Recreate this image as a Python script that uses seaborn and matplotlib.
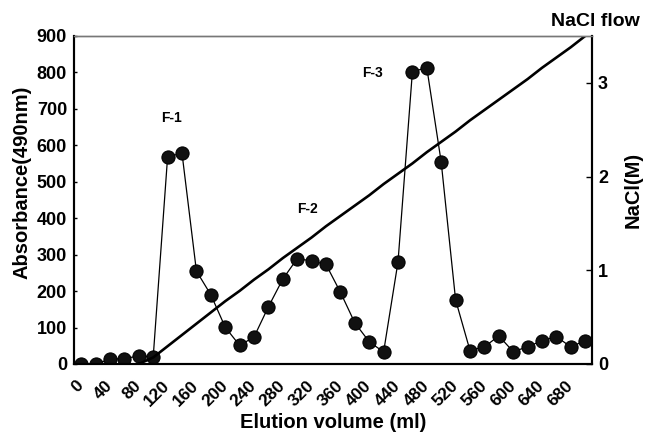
import pandas as pd
import matplotlib.pyplot as plt
import seaborn as sns

# elution volume (ml) and absorbance at 490 nm
volume = [0, 20, 40, 60, 80, 100, 120, 140, 160, 180, 200, 220, 240, 260, 280, 300, 320, 340,
          360, 380, 400, 420, 440, 460, 480, 500, 520, 540, 560, 580, 600, 620, 640, 660, 680, 700]
absorbance = [0, 0, 13, 15, 22, 20, 569, 578, 255, 190, 101, 51, 74, 157, 233, 289, 283, 273,
              197, 113, 61, 33, 280, 802, 813, 554, 176, 37, 47, 77, 34, 47, 64, 75, 47, 64]

# NaCl gradient (M)
nacl_volume = [80, 100, 120, 140, 160, 180, 200, 220, 240, 260, 280, 300, 320, 340, 360, 380,
               400, 420, 440, 460, 480, 500, 520, 540, 560, 580, 600, 620, 640, 660, 680, 700]
nacl = [0, 0.07, 0.19, 0.31, 0.43, 0.55, 0.67, 0.78, 0.90, 1.01, 1.13, 1.24, 1.35, 1.47, 1.58, 1.69,
        1.80, 1.92, 2.03, 2.14, 2.26, 2.37, 2.48, 2.60, 2.71, 2.82, 2.93, 3.04, 3.16, 3.27, 3.38, 3.50]

peak_labels = ['F-1', 'F-2', 'F-3']
peak_x = [126, 314, 404]
peak_y = [675, 425, 798]

xtick_labels = [str(v) for v in range(0, 700, 40)]

df = pd.DataFrame({'volume': volume, 'absorbance': absorbance})
df_nacl = pd.DataFrame({'volume': nacl_volume, 'nacl': nacl})

sns.set_theme(style='white')
plt.rcParams['font.family'] = ['Liberation Sans', 'DejaVu Sans']
plt.rcParams['font.weight'] = 'bold'
for key in ['text.color', 'axes.labelcolor', 'xtick.color', 'ytick.color']:
    plt.rcParams[key] = 'black'

fig = plt.figure(figsize=(6.46, 4.34), dpi=100)
ax = fig.add_axes([0.1146, 0.1613, 0.8024, 0.7558])

sns.lineplot(data=df, x='volume', y='absorbance', ax=ax, color='black', linewidth=0.9,
             marker='o', markersize=9.5, markeredgecolor='black', markerfacecolor='#111111')

ax2 = ax.twinx()
sns.lineplot(data=df_nacl, x='volume', y='nacl', ax=ax2, color='black', linewidth=1.9)

ax.set_xlim(-10, 710)
ax.set_ylim(0, 900)
ax2.set_ylim(0, 3.5)

ax.set_yticks(range(0, 1000, 100))
ax.set_yticklabels([str(v) for v in range(0, 1000, 100)], fontsize=13, fontweight='bold')
ax.tick_params(axis='y', direction='in', length=2, width=1, pad=5)
ax.set_xticks(range(0, 700, 40))
ax.set_xticklabels(xtick_labels, rotation=45, ha='right', va='center',
                   rotation_mode='anchor', fontsize=12.5, fontweight='bold')
ax.tick_params(axis='x', which='major', length=0, pad=14)
ax.set_xticks([v + 10 for v in volume[:-1]], minor=True)
ax.tick_params(axis='x', which='minor', direction='in', length=4.5, width=1, color='black')

ax2.set_yticks([0, 1, 2, 3])
ax2.set_yticklabels(['0', '1', '2', '3'], fontsize=13, fontweight='bold')
ax2.tick_params(axis='y', direction='in', length=4, width=1, pad=4)

ax.set_xlabel('Elution volume (ml)', fontsize=14.5, fontweight='bold')
ax.xaxis.set_label_coords(0.5, -0.15)
ax.set_ylabel('Absorbance(490nm)', fontsize=14.5, fontweight='bold')
ax.yaxis.set_label_coords(-0.082, 0.555)
ax2.set_ylabel('NaCl(M)', fontsize=14.5, fontweight='bold')
ax2.yaxis.set_label_coords(1.06, 0.53)

for a in (ax, ax2):
    for side in ['left', 'right', 'bottom']:
        a.spines[side].set_color('black')
        a.spines[side].set_linewidth(1.5)
    a.spines['top'].set_color('#777777')
    a.spines['top'].set_linewidth(1.0)

for lab, x, y in zip(peak_labels, peak_x, peak_y):
    ax.text(x, y, lab, fontsize=10, fontweight='bold', ha='center', va='center')

fig.text(0.99, 0.951, 'NaCl flow', fontsize=14, fontweight='bold', ha='right', va='center')

fig.savefig('out.png', dpi=100)
